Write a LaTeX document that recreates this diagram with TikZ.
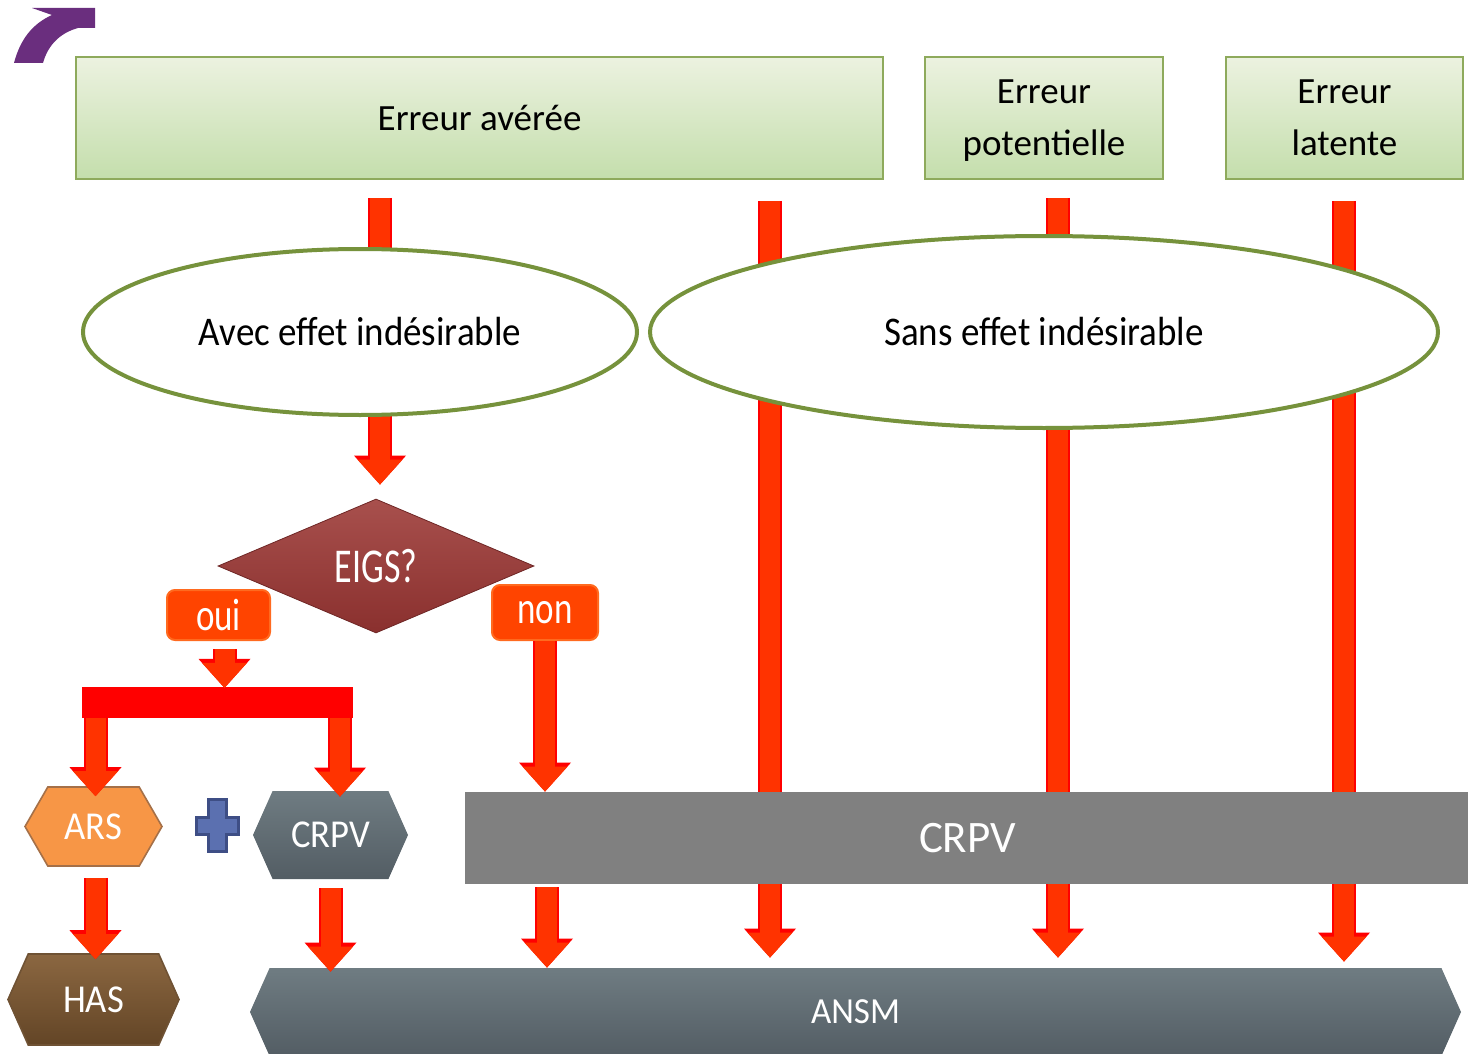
\documentclass[tikz,border=0pt]{standalone}
\usepackage{fontspec}
\usepackage{graphicx}
\setmainfont{Carlito}
\usetikzlibrary{shapes.geometric,shapes.symbols,arrows.meta,backgrounds}
\definecolor{boxline}{HTML}{8EAA5C}
\definecolor{boxtop}{HTML}{ECF2E0}
\definecolor{boxbot}{HTML}{C4DEAC}
\definecolor{ovalline}{HTML}{76923C}
\definecolor{arrowred}{HTML}{FF3300}
\definecolor{arrowedge}{HTML}{FF0000}
\definecolor{eigstop}{HTML}{A8504D}
\definecolor{eigsbot}{HTML}{8A302E}
\definecolor{choicefill}{HTML}{FF4400}
\definecolor{choiceline}{HTML}{FF6A1F}
\definecolor{arsfill}{HTML}{F79646}
\definecolor{arsline}{HTML}{A57048}
\definecolor{greytop}{HTML}{6F7C82}
\definecolor{greybot}{HTML}{535D64}
\definecolor{hastop}{HTML}{8B6741}
\definecolor{hasbot}{HTML}{634526}
\definecolor{plusblue}{HTML}{5B70B0}
\definecolor{plusline}{HTML}{3E4E85}
\definecolor{bandgrey}{HTML}{808080}
\definecolor{purplearrow}{HTML}{6A2E7E}
\newcommand{\tallbox}[2]{\scalebox{1}[#1]{#2}}

\begin{document}
\begin{tikzpicture}[x=0.5pt,y=-0.5pt,
  errbox/.style={rectangle, draw=boxline, line width=1pt, top color=boxtop, bottom color=boxbot,
    minimum height=61pt, inner sep=0pt, align=center, text depth=0pt, font=\fontsize{18.5}{26}\selectfont},
  oval/.style={ellipse, draw=ovalline, line width=2pt, fill=white, inner sep=0pt,
    font=\fontsize{18.5}{22}\selectfont},
  choice/.style={rectangle, rounded corners=4pt, fill=choicefill, draw=choiceline, line width=1pt,
    text=white, inner sep=0pt, font=\fontsize{17.5}{20}\selectfont},
  hexa/.style={signal, signal to=east and west, signal pointer angle=132, inner sep=0pt,
    text=white, font=\fontsize{18.3}{20}\selectfont},
  barrow/.style={draw=arrowred, line width=10pt, -{Triangle[width=22.5pt,length=12.5pt,line width=0pt]},
    preaction={draw=arrowedge, line width=12pt, -{Triangle[width=26pt,length=14.5pt,line width=0pt]}}}]
\useasboundingbox (0,0) rectangle (1468,1054);
\fill[purplearrow] (32,8) -- (95,8) -- (95,28) -- (78,28) .. controls (60,33) and (48,45) .. (43,63)
  -- (14,63) .. controls (20,40) and (32,24) .. (52,15) -- cycle;
\path (479.5,118) node[errbox, minimum width=403.5pt](averee) {Erreur avérée}
(1044,118) node[errbox, minimum width=119pt](potent) {Erreur\\potentielle}
(1344.5,118) node[errbox, minimum width=118.5pt](latent) {Erreur\\latente}
(360,332) node[oval, minimum width=277pt, minimum height=83pt](avec) {\tallbox{1.1}{Avec effet indésirable}}
(1044,332) node[oval, minimum width=394pt, minimum height=96pt](sans) {\tallbox{1.1}{Sans effet indésirable}}
(376,566) node[diamond, aspect=2.36, minimum width=158pt, minimum height=67pt, inner sep=0pt,
  top color=eigstop, bottom color=eigsbot, draw=eigsbot!80!black, text=white,
  font=\fontsize{18}{20}\selectfont](eigs) {\tallbox{1.35}{EIGS?}}
(218.5,615) node[choice, minimum width=51.5pt, minimum height=25pt](oui) {\tallbox{1.3}{oui}}
(545,612.5) node[choice, minimum width=53pt, minimum height=27.5pt](non) {\tallbox{1.3}{non}}
(93.5,826.5) node[hexa, signal pointer angle=120, minimum width=68.5pt, minimum height=39.5pt,
  fill=arsfill, draw=arsline, line width=0.8pt](ars) {\tallbox{1.08}{ARS}}
(330.5,835) node[hexa, minimum width=77.5pt, minimum height=44pt,
  top color=greytop, bottom color=greybot](crpv1) {\tallbox{1.08}{CRPV}}
(967.5,838) node[rectangle, fill=bandgrey, minimum width=502.5pt, minimum height=46pt,
  inner sep=0pt, text=white, font=\fontsize{22.5}{24}\selectfont](crpv2) {CRPV}
(93.5,999.5) node[hexa, minimum width=85.5pt, minimum height=45.5pt,
  top color=hastop, bottom color=hasbot, draw=hastop!80!black, line width=0.8pt](has) {\tallbox{1.08}{HAS}}
(855.5,1012) node[hexa, minimum width=605.5pt, minimum height=44pt,
  top color=greytop, bottom color=greybot, font=\fontsize{17.5}{20}\selectfont](ansm) {\tallbox{1.05}{ANSM}};
% the plus between ARS and CRPV
\filldraw[fill=plusblue, draw=plusline, line width=1.5pt] (208,799) -- (226,799) -- (226,817)
  -- (238,817) -- (238,834) -- (226,834) -- (226,851) -- (208,851) -- (208,834) -- (196,834)
  -- (196,817) -- (208,817) -- cycle;
\begin{scope}[on background layer]
\draw[barrow, shorten <=9pt, shorten >=7pt] ([xshift=2pt]averee.south -| eigs.north) -- ([xshift=2pt]eigs.north);
\draw[barrow, shorten <=10.5pt, shorten >=5pt] (770,0 |- averee.south) -- (770,0 |- ansm.north);
\draw[barrow, shorten <=9pt, shorten >=5pt] (1058,0 |- potent.south) -- (1058,0 |- ansm.north);
\draw[barrow, shorten <=10.5pt, shorten >=3pt] (1344,0 |- latent.south) -- (1344,0 |- ansm.north);
\end{scope}
\coordinate (barL) at (82,702.5);
\coordinate (barR) at (353,702.5);
\draw[draw=arrowedge, line width=15.5pt] (barL) -- (barR);
\draw[barrow, shorten <=4pt, shorten >=7.3pt] ([xshift=3pt]oui.south) -- ([xshift=3pt]oui.south |- barL);
\draw[barrow, shorten <=7.5pt, shorten >=-5pt] ([xshift=1pt]ars.north |- barL) -- ([xshift=1pt]ars.north);
\draw[barrow, shorten <=7.5pt, shorten >=-3pt] ([xshift=4.75pt]crpv1.north |- barL) -- ([xshift=4.75pt]crpv1.north);
\draw[barrow] (non.south) -- (non.south |- crpv2.north);
\draw[barrow, shorten <=5.5pt, shorten >=-3pt] ([xshift=1pt]ars.south) -- ([xshift=1pt]has.north);
\draw[barrow, shorten <=4.5pt, shorten >=-2pt] (crpv1.south) -- (crpv1.south |- ansm.north);
\draw[barrow, shorten <=1.5pt] ([xshift=1pt]non.south |- crpv2.south) -- ([xshift=1pt]non.south |- ansm.north);
\end{tikzpicture}
\end{document}
